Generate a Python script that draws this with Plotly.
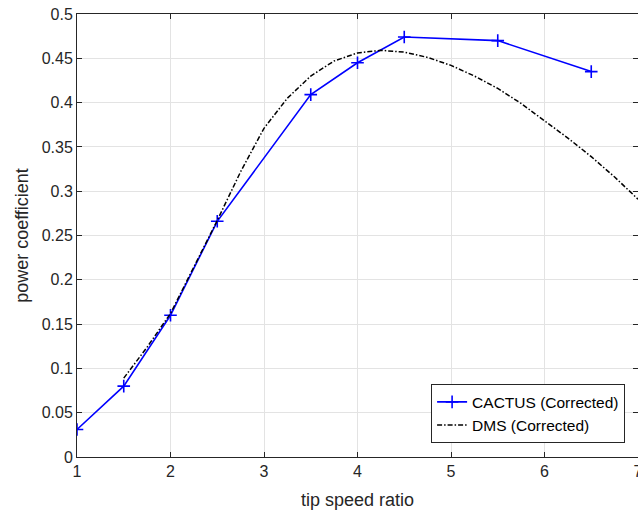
import plotly.graph_objects as go

# CACTUS (Corrected) - simulation points
CACTUS_TSR = [1.0, 1.5, 2.0, 2.5, 3.5, 4.0, 4.5, 5.5, 6.5]
CACTUS_CP = [0.031, 0.080, 0.160, 0.266, 0.409, 0.445, 0.474, 0.470, 0.435]

# DMS (Corrected) - model curve
DMS_TSR = [1.5, 1.75, 2.0, 2.25, 2.5, 2.75, 3.0, 3.25, 3.5, 3.75, 4.0, 4.25,
           4.5, 4.75, 5.0, 5.25, 5.5, 5.75, 6.0, 6.25, 6.5, 6.75, 7.0]
DMS_CP = [0.089, 0.124, 0.162, 0.215, 0.267, 0.322, 0.371, 0.405, 0.430, 0.447,
          0.456, 0.459, 0.457, 0.451, 0.442, 0.430, 0.416, 0.399, 0.380, 0.360,
          0.339, 0.316, 0.291]

X_TICKS = [1, 2, 3, 4, 5, 6, 7]
Y_TICKS = [0, 0.05, 0.1, 0.15, 0.2, 0.25, 0.3, 0.35, 0.4, 0.45, 0.5]
Y_LABELS = ["0", "0.05", "0.1", "0.15", "0.2", "0.25", "0.3", "0.35", "0.4", "0.45", "0.5"]

FONT = "Liberation Sans, Arial, sans-serif"
AXIS_COLOR = "#262626"

fig = go.Figure()

fig.add_trace(go.Scatter(
    x=CACTUS_TSR, y=CACTUS_CP,
    mode="lines+markers",
    name="CACTUS (Corrected)",
    line=dict(color="#0000ff", width=1.6),
    marker=dict(symbol="cross-thin", size=9, line=dict(color="#0000ff", width=1.6)),
))

fig.add_trace(go.Scatter(
    x=DMS_TSR, y=DMS_CP,
    mode="lines",
    name="DMS (Corrected)",
    line=dict(color="black", width=1.5, dash="5px,2px,1.5px,2px"),
))

axis_common = dict(
    showline=True, linecolor=AXIS_COLOR, linewidth=1,
    mirror="ticks", ticks="inside", ticklen=5, tickcolor=AXIS_COLOR,
    showgrid=True, gridcolor="#e3e3e3", gridwidth=1,
    zeroline=False, automargin=False, ticklabeloverflow="allow",
    tickfont=dict(family=FONT, size=16, color=AXIS_COLOR),
)

fig.update_xaxes(
    range=[1, 7], tickvals=X_TICKS,
    title=dict(text="tip speed ratio", font=dict(family=FONT, size=18, color=AXIS_COLOR), standoff=14),
    **axis_common,
)
fig.update_yaxes(
    range=[0, 0.5], tickvals=Y_TICKS, ticktext=Y_LABELS,
    title=dict(text="power coefficient", font=dict(family=FONT, size=18, color=AXIS_COLOR), standoff=8),
    **axis_common,
)

fig.update_layout(
    width=638, height=515,
    margin=dict(l=77, r=0, t=14, b=58, autoexpand=False),
    paper_bgcolor="white", plot_bgcolor="white",
    showlegend=True,
    legend=dict(
        x=0.977, y=0.031, xanchor="right", yanchor="bottom",
        bgcolor="white", bordercolor=AXIS_COLOR, borderwidth=1,
        font=dict(family=FONT, size=15.5, color="black"),
        tracegroupgap=0, itemwidth=30,
    ),
)

# page body has a default 8px margin; drop it so the figure fills the window
fig.write_html(
    "out.html",
    config={"displayModeBar": False},
    post_script="document.body.style.margin='0';document.body.style.overflow='hidden';",
)
